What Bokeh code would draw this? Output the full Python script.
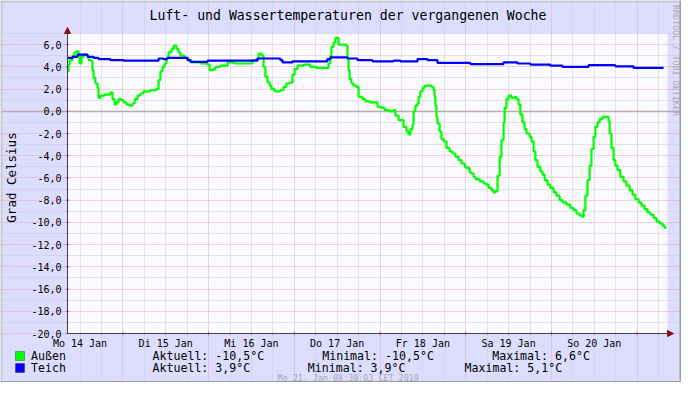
import math
from bokeh.plotting import figure
from bokeh.models import Range1d, FixedTicker, Grid, BoxAnnotation, Arrow, NormalHead
from bokeh.core.properties import value
from bokeh.embed import file_html
from bokeh.resources import INLINE

# ---------------- data ----------------
TITLE = "Luft- und Wassertemperaturen der vergangenen Woche"
Y_LABEL = "Grad Celsius"
FOOTER = "Mo 21. Jan 08:30:03 CET 2019"
WATERMARK = "RRDTOOL / TOBI OETIKER"

# time axis: hours since Mo 14 Jan 08:30 (one week = 168 h)
day_ticks = [3.5, 27.5, 51.5, 75.5, 99.5, 123.5, 147.5]
day_labels = ["Mo 14 Jan", "Di 15 Jan", "Mi 16 Jan", "Do 17 Jan", "Fr 18 Jan", "Sa 19 Jan", "So 20 Jan"]
midnights = [15.5, 39.5, 63.5, 87.5, 111.5, 135.5, 159.5]
six_hours = [3.5, 9.5, 21.5, 27.5, 33.5, 45.5, 51.5, 57.5, 69.5, 75.5, 81.5,
             93.5, 99.5, 105.5, 117.5, 123.5, 129.5, 141.5, 147.5, 153.5, 165.5]
y_ticks = [-20, -18, -16, -14, -12, -10, -8, -6, -4, -2, 0, 2, 4, 6]
y_labels = ["-20,0", "-18,0", "-16,0", "-14,0", "-12,0", "-10,0", "-8,0", "-6,0", "-4,0",
            "-2,0", "0,0", "2,0", "4,0", "6,0"]
y_minor = [-19, -17, -15, -13, -11, -9, -7, -5, -3, -1, 1, 3, 5, 7]

aussen_h = [0.0, 0.3, 0.6, 1.4, 2.0, 2.5, 3.1, 3.4, 3.9, 4.5, 5.3, 5.9, 6.7, 7.0, 7.3, 7.8, 8.4,
            8.7, 9.2, 10.4, 11.5, 12.0, 12.6, 13.2, 13.7, 14.3, 15.1, 15.7, 16.5, 17.4, 18.2,
            18.8, 19.6, 20.4, 21.3, 23.2, 24.9, 25.5, 26.0, 26.6, 27.2, 27.7, 28.3, 29.1, 29.7,
            30.5, 31.1, 31.6, 32.8, 33.9, 34.7, 37.2, 39.2, 39.8, 40.9, 41.4, 42.8, 44.8, 46.5,
            51.2, 51.8, 52.9, 53.5, 54.3, 54.9, 55.4, 56.0, 56.6, 57.1, 58.0, 59.6, 60.5, 61.3,
            62.4, 63.0, 63.6, 64.4, 66.1, 68.0, 69.7, 72.8, 73.1, 73.6, 73.9, 74.5, 75.0, 75.9,
            77.0, 78.1, 78.4, 78.7, 79.0, 79.5, 80.1, 80.9, 81.5, 82.6, 83.4, 84.6, 86.0, 86.8,
            87.9, 88.8, 90.2, 91.3, 91.8, 92.7, 93.5, 94.1, 94.9, 95.5, 96.0, 96.6, 96.9, 97.4,
            98.0, 98.3, 98.8, 99.4, 100.0, 101.4, 101.9, 102.5, 102.8, 103.0, 103.3, 103.6,
            104.2, 104.7, 105.3, 106.1, 107.0, 107.8, 108.6, 109.5, 110.3, 111.2, 111.7, 112.6,
            113.1, 113.7, 114.2, 115.4, 116.5, 117.3, 117.9, 118.7, 119.3, 119.8, 120.4, 121.0,
            121.5, 122.1, 122.4, 122.9, 123.5, 124.3, 125.2, 125.7, 126.3, 126.8, 127.4, 128.0,
            128.5, 129.4, 129.9, 130.5, 131.0, 131.6, 132.4, 133.0, 133.6, 134.4, 135.2, 136.1,
            136.9, 137.8, 138.6, 139.7, 140.8, 141.7, 142.5, 143.4, 144.2, 144.5, 145.0, 145.6,
            146.2, 146.7, 147.3, 147.8, 148.4, 149.0, 149.8, 150.9, 151.5, 151.8, 152.3, 152.9,
            153.4, 154.0, 154.8, 155.7, 156.5, 157.4, 158.2, 159.0, 159.9, 160.7, 161.6, 162.4,
            163.2, 164.1, 164.9, 165.8, 166.6, 167.2, 167.7]
aussen_t = [3.6, 4.2, 4.6, 5.0, 5.3, 5.4, 5.2, 4.3, 4.9, 5.1, 5.0, 4.6, 4.5, 3.7, 3.0, 2.5, 2.1,
            1.2, 1.4, 1.5, 1.5, 1.7, 1.1, 0.6, 0.8, 1.1, 1.0, 0.8, 0.6, 0.5, 0.7,
            1.1, 1.4, 1.6, 1.8, 1.9, 2.0, 2.8, 3.6, 4.0, 4.3, 4.8, 5.3, 5.6, 5.9,
            5.6, 5.3, 5.0, 4.8, 4.6, 4.4, 4.3, 4.2, 3.7, 3.8, 4.0, 4.1, 4.4, 4.3,
            4.3, 4.6, 4.7, 5.2, 5.0, 4.0, 3.1, 2.6, 2.3, 2.0, 1.8, 1.9, 2.2, 2.5,
            2.6, 3.3, 3.8, 4.1, 4.2, 4.0, 3.9, 3.9, 4.3, 5.0, 5.8, 6.2, 6.6, 6.0,
            6.0, 5.9, 4.7, 3.7, 2.9, 2.5, 2.3, 2.2, 1.3, 1.1, 0.9, 0.8, 0.8, 0.4,
            0.3, 0.1, 0.0, 0.1, -0.4, -0.8, -0.8, -1.4, -1.8, -2.1, -1.6, -1.2, 0.0, 0.5,
            0.7, 1.3, 1.8, 2.1, 2.3, 2.3, 2.2, 1.9, 1.3, 0.5, -0.5, -1.1,
            -1.8, -2.5, -2.7, -3.3, -3.6, -3.8, -4.1, -4.4, -4.7, -5.0, -5.1, -5.5,
            -5.6, -5.9, -6.1, -6.3, -6.5, -6.6, -6.9, -7.1, -7.3, -7.2, -5.8, -4.1,
            -2.6, -1.0, 0.3, 1.1, 1.4, 1.2, 1.3, 1.1, 0.6, -0.3, -1.0, -1.6,
            -2.0, -2.3, -2.7, -3.6, -4.4, -5.0, -5.4, -5.7, -6.2, -6.6, -6.9, -7.3,
            -7.6, -8.0, -8.2, -8.4, -8.7, -8.9, -9.2, -9.4, -9.5, -8.9, -7.6, -6.2,
            -4.9, -3.4, -2.3, -1.4, -1.0, -0.7, -0.5, -0.5, -0.9, -2.0, -3.3, -4.4,
            -4.9, -5.3, -5.9, -6.3, -6.7, -7.1, -7.5, -7.9, -8.2, -8.5, -8.8, -9.1,
            -9.3, -9.6, -9.9, -10.1, -10.3, -10.5, -10.5]

teich_h = [0.0, 1.4, 2.8, 5.6, 7.3, 8.7, 12.0, 15.7, 25.5, 26.9, 28.0, 33.6, 34.4, 39.2, 53.2,
           59.6, 60.2, 63.0, 72.8, 73.6, 78.4, 81.2, 85.4, 91.3, 93.2, 98.0, 100.8, 103.6,
           112.8, 122.1, 126.0, 129.6, 135.2, 138.6, 145.9, 153.4, 158.5, 166.9]
teich_t = [4.8, 4.9, 5.1, 4.9, 4.8, 4.7, 4.6, 4.55, 4.75, 4.7, 4.8, 4.6, 4.45, 4.55, 4.75,
           4.6, 4.4, 4.5, 4.7, 4.85, 4.75, 4.6, 4.5, 4.55, 4.5, 4.7, 4.6, 4.35,
           4.25, 4.4, 4.3, 4.2, 4.1, 4.0, 4.15, 4.05, 3.9, 3.9]

legend_names = ["Außen", "Teich"]
legend_colors = ["#00FF00", "#0000FF"]
legend_aktuell = ["Aktuell: -10,5°C", "Aktuell: 3,9°C"]
legend_minimal = ["Minimal: -10,5°C", "Minimal: 3,9°C"]
legend_maximal = ["Maximal: 6,6°C", "Maximal: 5,1°C"]

# ---------------- layout / styling ----------------
W, H = 681, 382
PL, PR, PT, PB = 67, 667, 33, 333          # plot area in canvas pixels
X0, X1, Y0, Y1 = 0.0, 168.0, -20.0, 7.0     # data extent of plot area
MONO = "DejaVu Sans Mono"
BACK = "#DDDDFF"
CANVAS = "#FAFAFF"
MGRID = "#E2AAB4"
GRID = "#CACAD2"

def hx(px):
    return X0 + (px - PL) * (X1 - X0) / (PR - PL)

def vy(py):
    return Y1 - (py - PT) * (Y1 - Y0) / (PB - PT)

p = figure(width=W, height=H, x_range=Range1d(hx(0), hx(W)), y_range=Range1d(vy(H), vy(0)),
           x_axis_type=None, y_axis_type=None, output_backend="svg", toolbar_location=None,
           min_border=0, background_fill_color=BACK, border_fill_color=BACK,
           outline_line_color=None)

# plot canvas
p.add_layout(BoxAnnotation(left=X0, right=X1, bottom=Y0, top=Y1, fill_color=CANVAS,
                           fill_alpha=1.0, line_color=None, level="underlay"))

# grids
p.add_layout(Grid(dimension=0, ticker=FixedTicker(ticks=midnights, minor_ticks=six_hours),
                  bounds=(Y0, Y1), grid_line_color=MGRID, grid_line_dash="1 1",
                  minor_grid_line_color=GRID, minor_grid_line_dash="1 1"))
p.add_layout(Grid(dimension=1, ticker=FixedTicker(ticks=y_ticks, minor_ticks=y_minor),
                  bounds=(X0, X1), grid_line_color=MGRID, grid_line_dash="1 1",
                  minor_grid_line_color=GRID, minor_grid_line_dash="1 1"))
p.add_layout(Grid(dimension=1, ticker=FixedTicker(ticks=[0], minor_ticks=[]),
                  bounds=(X0, X1), grid_line_color="#BBAAAA", grid_line_width=1.5))

# series
p.step(aussen_h, aussen_t, mode="after", line_color="#00FF00", line_width=2.2)
p.step(teich_h, teich_t, mode="after", line_color="#0000FF", line_width=2.2)

# axis tick marks
p.segment(x0=[hx(PL - 2)] * len(y_ticks), x1=[hx(PL + 2)] * len(y_ticks), y0=y_ticks, y1=y_ticks,
          line_color="#C07880", line_width=1)
p.segment(x0=[hx(PL - 1)] * len(y_minor), x1=[hx(PL + 1)] * len(y_minor), y0=y_minor, y1=y_minor,
          line_color="#A0A0A8", line_width=1)
p.segment(x0=midnights, x1=midnights, y0=[vy(PB - 2)] * 7, y1=[vy(PB + 2)] * 7,
          line_color="#C07880", line_width=1)
p.segment(x0=six_hours, x1=six_hours, y0=[vy(PB - 1)] * len(six_hours),
          y1=[vy(PB + 1)] * len(six_hours), line_color="#A0A0A8", line_width=1)

# axis lines with arrows
p.add_layout(Arrow(x_start=X0, y_start=Y0, x_end=hx(PR + 6), y_end=Y0,
                   line_color="#404048", line_width=1,
                   end=NormalHead(size=6, fill_color="#8B1010", line_color="#8B1010")))
p.add_layout(Arrow(x_start=X0, y_start=Y0, x_end=X0, y_end=vy(PT - 6),
                   line_color="#404048", line_width=1,
                   end=NormalHead(size=6, fill_color="#8B1010", line_color="#8B1010")))

# tick labels
p.text(x=[hx(PL - 6)] * len(y_ticks), y=y_ticks, text=y_labels, text_font=value(MONO),
       text_font_size="10px", text_color="#000000", text_align="right", text_baseline="middle")
p.text(x=day_ticks, y=[vy(PB + 9.5)] * len(day_ticks), text=day_labels, text_font=value(MONO),
       text_font_size="10px", text_color="#000000", text_align="center", text_baseline="middle")

def label(px, py, s, size, color="#000000", align="left", angle=0.0):
    p.text(x=[hx(px)], y=[vy(py)], text=[s], text_font=value(MONO), text_font_size=size,
           text_color=color, text_align=align, text_baseline="middle", angle=angle)

label(347.5, 15, TITLE, "13.2px", align="center")
label(10.5, 177, Y_LABEL, "12.5px", align="center", angle=math.pi / 2)
label(675.5, 60, WATERMARK, "8.4px", color="#A8A8B4", align="center", angle=-math.pi / 2)
label(347.7, 377.5, FOOTER, "8.4px", color="#A8A8B8", align="center")

row_y = [355.5, 367.5]
col_aktuell = [152, 152]
col_min = [321.7, 307.3]
col_max = [491.7, 464]
for i in range(2):
    y = row_y[i]
    p.add_layout(BoxAnnotation(left=hx(15), right=hx(24), bottom=vy(y + 4.5), top=vy(y - 4.5),
                               fill_color=legend_colors[i], fill_alpha=1.0,
                               line_color="#000000", line_width=1))
    label(30.5, y, legend_names[i], "11.6px")
    label(col_aktuell[i], y, legend_aktuell[i], "11.6px")
    label(col_min[i], y, legend_minimal[i], "11.6px")
    label(col_max[i], y, legend_maximal[i], "11.6px")

# 3D frame shades around the canvas
def shade(l, r, t, b, c):
    p.add_layout(BoxAnnotation(left=hx(l), right=hx(r), top=vy(t), bottom=vy(b),
                               fill_color=c, fill_alpha=1.0, line_color=None))

shade(0, W, 0, 2, "#C8C8CC")
shade(0, 2, 0, H, "#C8C8CC")
shade(W - 2, W, 0, H, "#9C9C9C")
shade(0, W, H - 1.5, H, "#9C9C9C")

open("out.html", "w").write(file_html(p, INLINE))
